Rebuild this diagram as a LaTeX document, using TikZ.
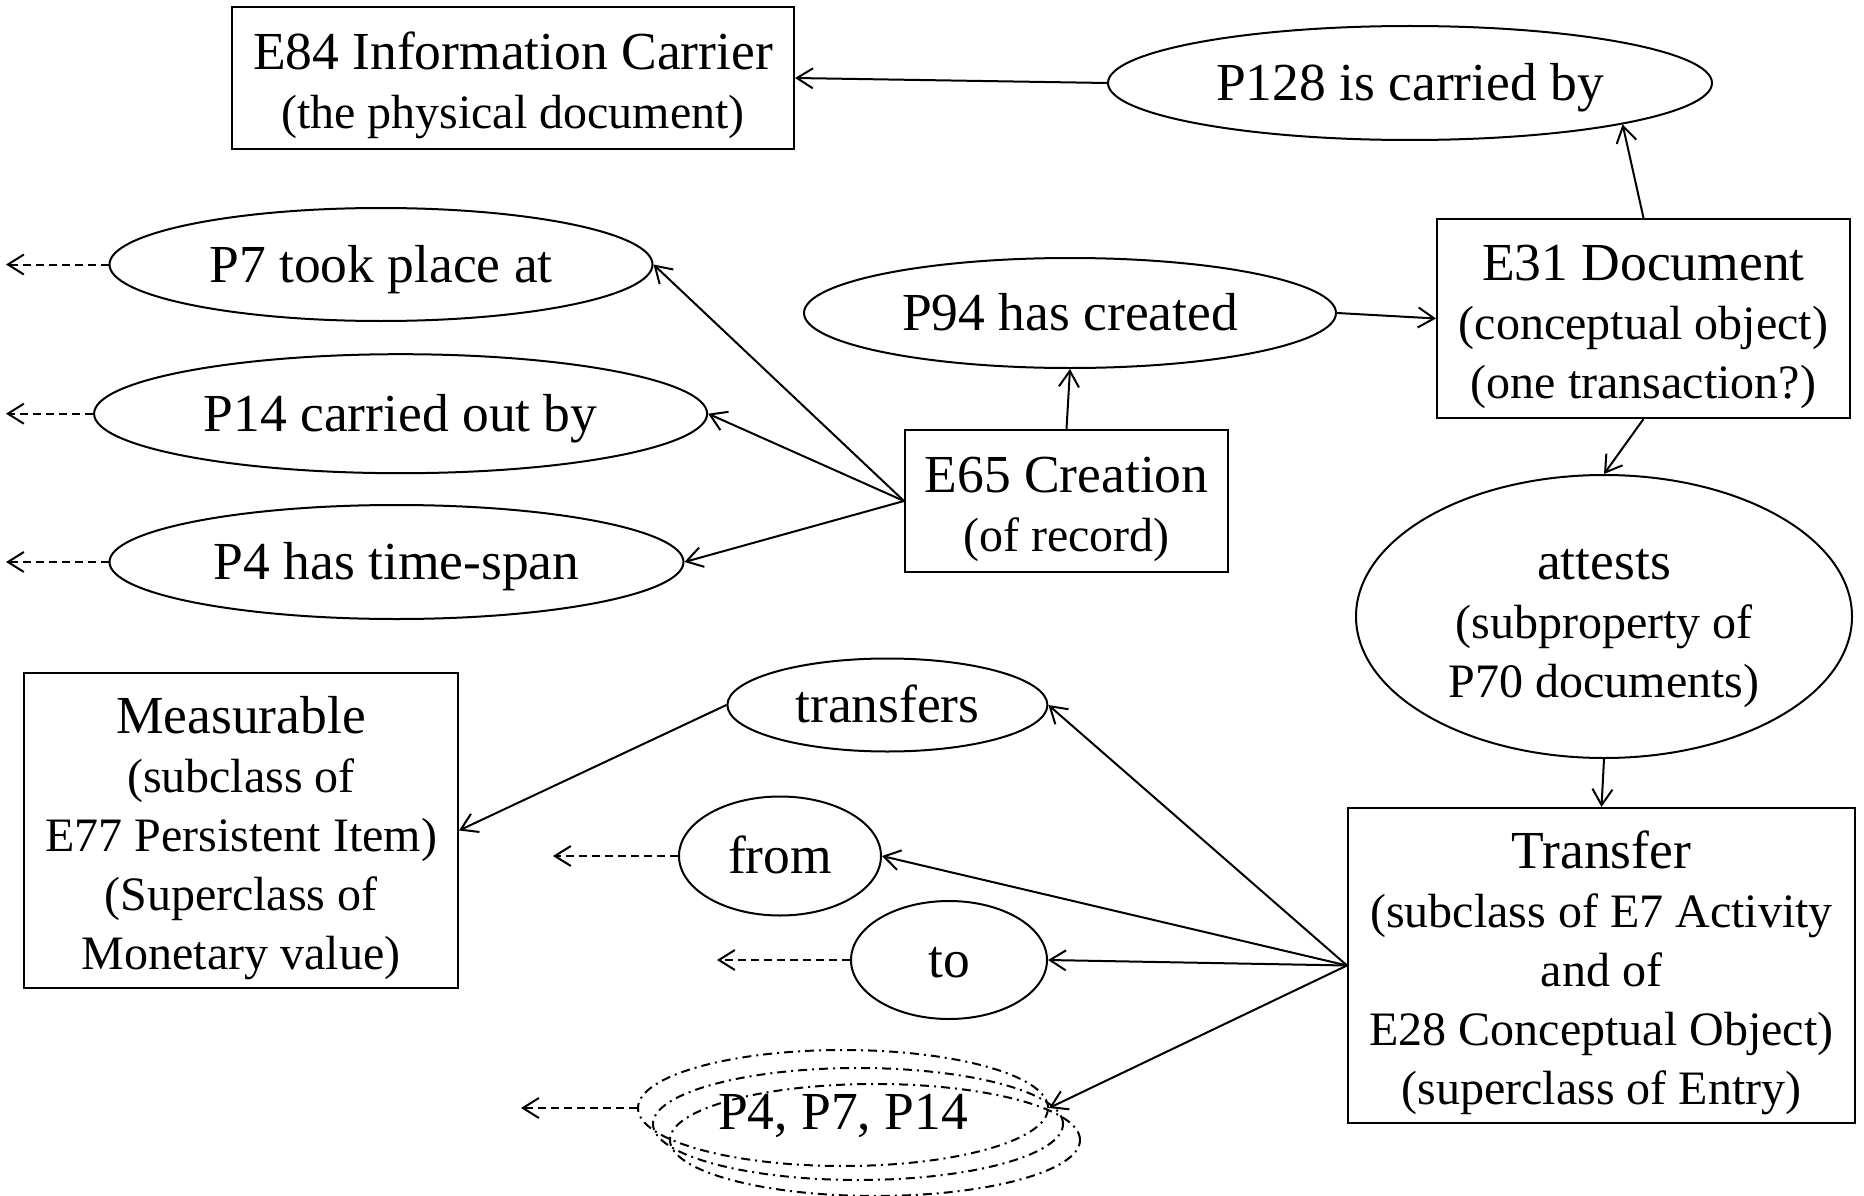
\documentclass[tikz,border=0pt]{standalone}
\usepackage{fontspec}
\setmainfont{Liberation Serif}
\usetikzlibrary{arrows.meta,shapes.geometric}
\newcommand{\tp}[1]{\rule{0pt}{#1pt}}
\newcommand{\bt}{\rule[-14pt]{0pt}{0pt}}
\newcommand{\subf}{\fontsize{48}{59}\selectfont}
\begin{document}
\begin{tikzpicture}[x=1pt,y=-1pt,
  every node/.style={font=\fontsize{53.5}{59}\selectfont, align=center, inner sep=0pt, line width=2pt},
  sz/.style 2 args={minimum width=#1pt, minimum height=#2pt},
  box/.style={draw, rectangle},
  ell/.style={draw, ellipse},
  dd/.style={draw, ellipse, dash pattern=on 9pt off 5pt on 2pt off 5pt},
  ar/.style={line width=2pt, -{Straight Barb[length=16pt,width=20pt]}},
  dar/.style={ar, dash pattern=on 8pt off 5pt}
]
\useasboundingbox (0,0) rectangle (1864,1196);

\node[box, sz={562}{142}] (e84) at (513,78) {{\tp{56}E84 Information Carrier}\\{\subf (the physical document)\bt}};
\node[ell, sz={604}{114}] (p128) at (1410,83) {\tp{49.4}P128 is carried by\bt};
\node[ell, sz={543}{113}] (p7) at (381,264.5) {\tp{49.4}P7 took place at\bt};
\node[ell, sz={613}{119}] (p14) at (400.6,413.7) {\tp{49.4}P14 carried out by\bt};
\node[ell, sz={574}{114}] (p4) at (396.5,562) {\tp{49.4}P4 has time-span\bt};
\node[ell, sz={532}{110}] (p94) at (1070,313) {\tp{49.4}P94 has created\bt};
\node[box, sz={413}{199}] (e31) at (1643.5,318.5) {{\tp{56}E31 Document}\\{\subf (conceptual object)}\\{\subf (one transaction?)\bt}};
\node[box, sz={323}{142}] (e65) at (1066.5,501) {{\tp{56}E65 Creation}\\{\subf (of record)\bt}};
\node[ell, sz={496}{283}] (att) at (1604,616.5) {{\tp{58}attests}\\{\subf (subproperty of}\\{\subf P70 documents)\bt}};
\node[box, sz={434}{315}] (meas) at (241,830.5) {{\tp{56}Measurable}\\{\subf (subclass of}\\{\subf E77 Persistent Item)}\\{\subf (Superclass of}\\{\subf Monetary value)\bt}};
\node[ell, sz={320}{93}] (transfers) at (887.4,705) {\tp{49.4}transfers\bt};
\node[ell, sz={202}{119}] (from) at (780,856) {\tp{49.4}from\bt};
\node[ell, sz={196}{118}] (to) at (949,960) {\tp{49.4}to\bt};
\node[box, sz={507}{315}] (transfer) at (1601.5,965.5) {{\tp{56}Transfer}\\{\subf (subclass of E7 Activity}\\{\subf and of}\\{\subf E28 Conceptual Object)}\\{\subf (superclass of Entry)\bt}};
\node[dd, sz={410}{112}] (p47c) at (875,1140) {};
\node[dd, sz={410}{112}] (p47b) at (858,1124) {};
\node[dd, sz={410}{116}] (p47) at (843,1108) {\tp{56}P4, P7, P14\bt};

\coordinate (d7) at (6,264.5);
\coordinate (d14) at (6,413.7);
\coordinate (d4) at (6,562);
\coordinate (dfrom) at (553,856);
\coordinate (dto) at (717,960);
\coordinate (d47) at (521,1108);

\draw[ar] (p128.west) -- (e84.east);
\draw[ar] (e31.north) -- (p128.-11);
\draw[ar] (e65.north) -- (p94.south);
\draw[ar] (p94.east) -- (e31.west);
\draw[ar] (e65.west) -- (p7.east);
\draw[ar] (e65.west) -- (p14.east);
\draw[ar] (e65.west) -- (p4.east);
\draw[ar] (e31.south) -- (att.north);
\draw[ar] (att.south) -- (transfer.north);
\draw[ar] (transfer.west) -- (transfers.east);
\draw[ar] (transfer.west) -- (from.east);
\draw[ar] (transfer.west) -- (to.east);
\draw[ar] (transfer.west) -- (p47.east);
\draw[ar] (transfers.west) -- (meas.east);

\draw[dar] (p7.west) -- (d7);
\draw[dar] (p14.west) -- (d14);
\draw[dar] (p4.west) -- (d4);
\draw[dar] (from.west) -- (dfrom);
\draw[dar] (to.west) -- (dto);
\draw[dar] (p47.west) -- (d47);
\end{tikzpicture}
\end{document}
